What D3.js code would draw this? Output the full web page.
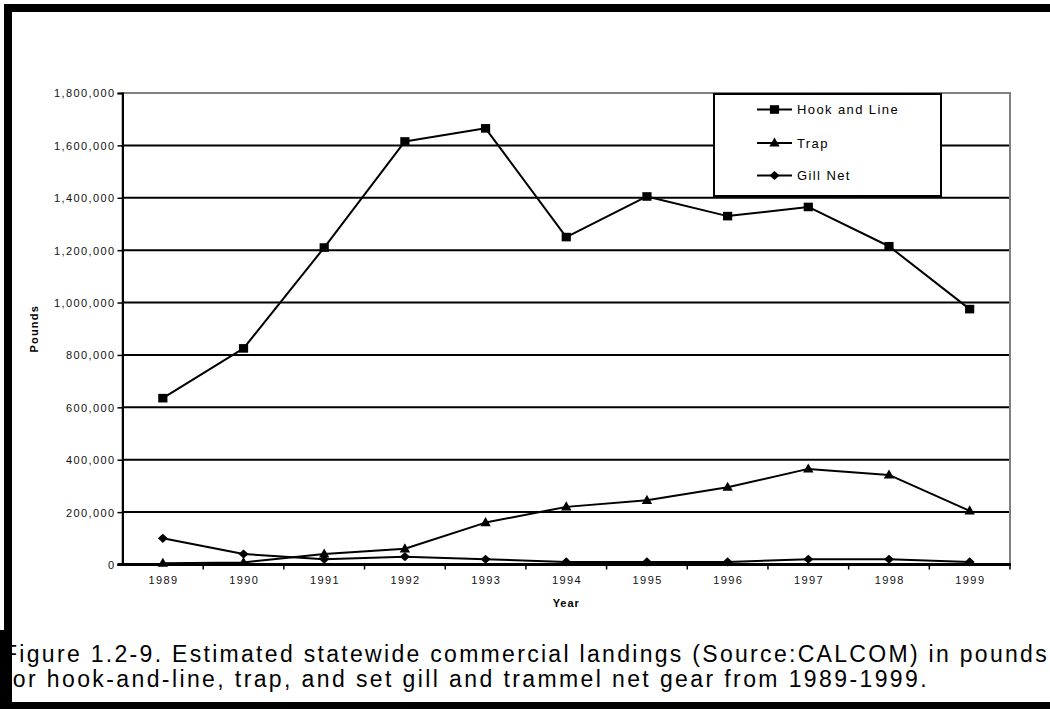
<!DOCTYPE html>
<html><head><meta charset="utf-8">
<script src="https://cdn.jsdelivr.net/npm/d3@7"></script>
<style>
body{margin:0;background:#fff;}
svg{display:block;font-family:Arial,"Liberation Sans",sans-serif;}
</style>
</head><body>
<svg id="c" width="1050" height="709"></svg>
<script>
// ---------- data ----------
const years = ["1989","1990","1991","1992","1993","1994","1995","1996","1997","1998","1999"];
const hookAndLine = [635000, 825000, 1210000, 1615000, 1665000, 1250000, 1405000, 1330000, 1365000, 1215000, 975000];
const trap = [5000, 8000, 40000, 60000, 160000, 220000, 245000, 295000, 365000, 342000, 205000];
const gillNet = [100000, 40000, 20000, 30000, 20000, 10000, 10000, 10000, 20000, 20000, 10000];
const seriesNames = ["Hook and Line", "Trap", "Gill Net"];
const yTicks = [0, 200000, 400000, 600000, 800000, 1000000, 1200000, 1400000, 1600000, 1800000];
const yTitle = "Pounds";
const xTitle = "Year";
const caption1 = "Figure 1.2-9. Estimated statewide commercial landings (Source:CALCOM) in pounds";
const caption2 = "for hook-and-line, trap, and set gill and trammel net gear from 1989-1999.";

// ---------- layout ----------
const svg = d3.select("#c");
const L = 122.5, R = 1010, T = 93, B = 564.5;
const x = d3.scaleBand().domain(years).range([L, R]).padding(0);
const y = d3.scaleLinear().domain([0, 1800000]).range([B, T]);
const cx = d => x(d) + x.bandwidth() / 2;

svg.append("rect").attr("width", 1050).attr("height", 709).attr("fill", "#fff");

// gridlines
svg.append("g").selectAll("line")
  .data(yTicks.filter(v => v > 0 && v < 1800000))
  .join("line")
  .attr("x1", L).attr("x2", R)
  .attr("y1", d => y(d)).attr("y2", d => y(d))
  .attr("stroke", "#000").attr("stroke-width", 2);

// plot area border (gray)
svg.append("rect")
  .attr("x", L).attr("y", T).attr("width", R - L).attr("height", B - T)
  .attr("fill", "none").attr("stroke", "#808080").attr("stroke-width", 2);

// series
const series = [
  {name: seriesNames[0], values: hookAndLine, shape: "square"},
  {name: seriesNames[1], values: trap, shape: "triangle"},
  {name: seriesNames[2], values: gillNet, shape: "diamond"}
];
function markerPath(shape) {
  if (shape === "square") return "M-4.6,-4.3H4.6V4.3H-4.6Z";
  if (shape === "triangle") return "M0,-5.5L5.2,3.6H-5.2Z";
  return "M0,-4.6L5,0L0,4.6L-5,0Z";
}
const line = d3.line().x((d, i) => cx(years[i])).y(d => y(d));
const gS = svg.append("g");
series.forEach(s => {
  gS.append("path").attr("d", line(s.values))
    .attr("fill", "none").attr("stroke", "#000").attr("stroke-width", 2)
    .attr("stroke-linejoin", "round");
});

// axes
const yAxis = d3.axisLeft(y).tickValues(yTicks).tickSize(5).tickPadding(3).tickFormat(d3.format(","));
const gy = svg.append("g").attr("transform", `translate(${L},0)`).call(yAxis);
gy.select(".domain").attr("stroke", "#000").attr("stroke-width", 2);
gy.selectAll(".tick line").attr("stroke", "#000").attr("stroke-width", 1.5);
gy.selectAll(".tick text").attr("font-size", 11).attr("fill", "#111")
  .attr("font-family", "Arial, 'Liberation Sans', sans-serif")
  .style("letter-spacing", "1.4px").attr("dy", "0.36em").attr("x", -7);

const xAxis = d3.axisBottom(x).tickSize(0).tickPadding(12);
const gx = svg.append("g").attr("transform", `translate(0,${B})`).call(xAxis);
gx.select(".domain").remove();
gx.selectAll(".tick text").attr("font-size", 11).attr("fill", "#111")
  .attr("font-family", "Arial, 'Liberation Sans', sans-serif")
  .style("letter-spacing", "1.4px").attr("dx", "0.7px");
// boundary ticks and baseline
svg.append("g").selectAll("line")
  .data(years.map((d, i) => i + 1))
  .join("line")
  .attr("x1", i => L + i * x.step()).attr("x2", i => L + i * x.step())
  .attr("y1", B).attr("y2", B + 5)
  .attr("stroke", "#000").attr("stroke-width", 1.5);
svg.append("line").attr("x1", L - 5).attr("x2", R + 1).attr("y1", B).attr("y2", B)
  .attr("stroke", "#000").attr("stroke-width", 3);

// markers (on top)
series.forEach(s => {
  gS.append("g").selectAll("path").data(s.values).join("path")
    .attr("d", markerPath(s.shape))
    .attr("transform", (d, i) => `translate(${cx(years[i])},${y(d)})`)
    .attr("fill", "#000");
});

// axis titles
svg.append("text").attr("x", (L + R) / 2).attr("y", 607)
  .attr("text-anchor", "middle").attr("font-size", 11).attr("font-weight", "bold")
  .style("letter-spacing", "1px").text(xTitle);
svg.append("text").attr("transform", `translate(38,${(T + B) / 2}) rotate(-90)`)
  .attr("text-anchor", "middle").attr("font-size", 11).attr("font-weight", "bold")
  .style("letter-spacing", "1.2px").text(yTitle);

// legend
const lg = svg.append("g");
lg.append("rect").attr("x", 714).attr("y", 94).attr("width", 227).attr("height", 102)
  .attr("fill", "#fff").attr("stroke", "#000").attr("stroke-width", 2);
const legendRows = [109.5, 143, 175.5];
series.forEach((s, i) => {
  const yy = legendRows[i];
  lg.append("line").attr("x1", 757).attr("x2", 792).attr("y1", yy).attr("y2", yy)
    .attr("stroke", "#000").attr("stroke-width", 2);
  lg.append("path").attr("d", markerPath(s.shape))
    .attr("transform", `translate(774.5,${yy})`).attr("fill", "#000");
  lg.append("text").attr("x", 797).attr("y", yy + 4.5).attr("font-size", 13)
    .style("letter-spacing", "1.4px").attr("fill", "#000").text(s.name);
});

// caption
function fitLine(txt, x0, endX, yy) {
  const t = svg.append("text").attr("x", x0).attr("y", yy).attr("font-size", 23)
    .attr("fill", "#000").text(txt);
  const w = t.node().getComputedTextLength();
  const ls = (endX - x0 - w) / txt.length;
  t.style("letter-spacing", ls + "px");
  return t;
}
fitLine(caption1, 3, 1049, 662);
fitLine(caption2, 4, 929, 687);

// frame
svg.append("rect").attr("x", 4).attr("y", 4).attr("width", 1046).attr("height", 8).attr("fill", "#000");
svg.append("rect").attr("x", 4).attr("y", 4).attr("width", 8).attr("height", 705).attr("fill", "#000");
svg.append("rect").attr("x", 0).attr("y", 630).attr("width", 5).attr("height", 79).attr("fill", "#000");
svg.append("rect").attr("x", 4).attr("y", 702).attr("width", 1046).attr("height", 7).attr("fill", "#000");
</script>
</body></html>
